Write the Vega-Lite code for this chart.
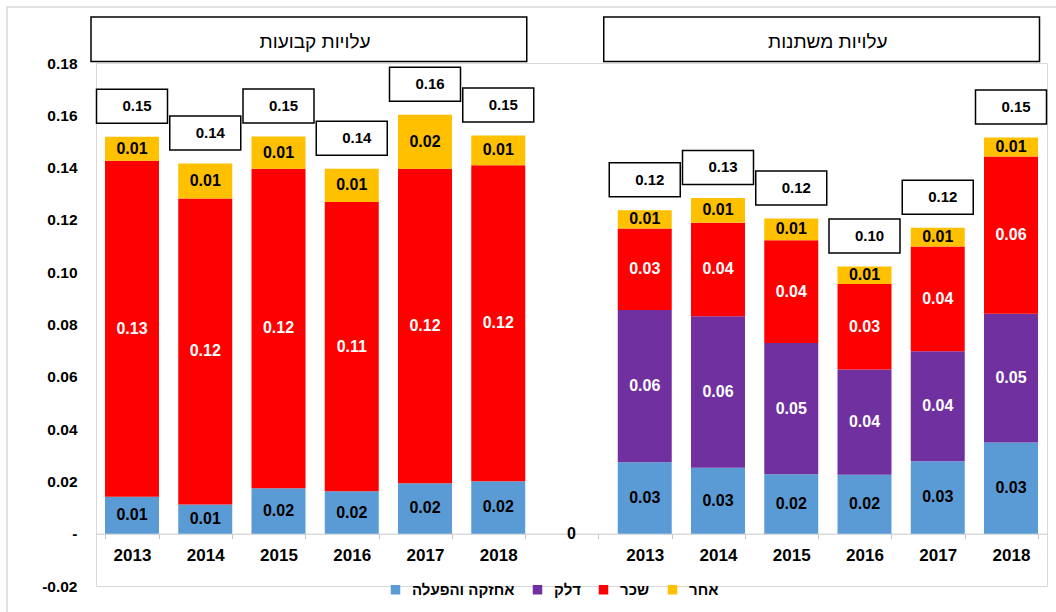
{
  "$schema": "https://vega.github.io/schema/vega-lite/v6.json",
  "width": 951,
  "height": 523,
  "autosize": "none",
  "padding": {"left": 96, "top": 63, "right": 9, "bottom": 26},
  "background": "white",
  "config": {"view": {"stroke": "#d9d9d9", "strokeWidth": 1}, "font": "Liberation Sans"},
  "layer": [
    {
      "data": {"values": [
        {"slot": "F2013", "c": "אחזקה והפעלה", "v": 0.0141},
        {"slot": "F2013", "c": "שכר", "v": 0.1285},
        {"slot": "F2013", "c": "אחר", "v": 0.0092},
        {"slot": "F2014", "c": "אחזקה והפעלה", "v": 0.0112},
        {"slot": "F2014", "c": "שכר", "v": 0.1170},
        {"slot": "F2014", "c": "אחר", "v": 0.0134},
        {"slot": "F2015", "c": "אחזקה והפעלה", "v": 0.0174},
        {"slot": "F2015", "c": "שכר", "v": 0.1222},
        {"slot": "F2015", "c": "אחר", "v": 0.0123},
        {"slot": "F2016", "c": "אחזקה והפעלה", "v": 0.0162},
        {"slot": "F2016", "c": "שכר", "v": 0.1106},
        {"slot": "F2016", "c": "אחר", "v": 0.0128},
        {"slot": "F2017", "c": "אחזקה והפעלה", "v": 0.0193},
        {"slot": "F2017", "c": "שכר", "v": 0.1203},
        {"slot": "F2017", "c": "אחר", "v": 0.0206},
        {"slot": "F2018", "c": "אחזקה והפעלה", "v": 0.0201},
        {"slot": "F2018", "c": "שכר", "v": 0.1208},
        {"slot": "F2018", "c": "אחר", "v": 0.0114},
        {"slot": "gap", "c": "אחזקה והפעלה", "v": 0},
        {"slot": "V2013", "c": "אחזקה והפעלה", "v": 0.0273},
        {"slot": "V2013", "c": "דלק", "v": 0.0582},
        {"slot": "V2013", "c": "שכר", "v": 0.0312},
        {"slot": "V2013", "c": "אחר", "v": 0.0070},
        {"slot": "V2014", "c": "אחזקה והפעלה", "v": 0.0252},
        {"slot": "V2014", "c": "דלק", "v": 0.0580},
        {"slot": "V2014", "c": "שכר", "v": 0.0357},
        {"slot": "V2014", "c": "אחר", "v": 0.0095},
        {"slot": "V2015", "c": "אחזקה והפעלה", "v": 0.0227},
        {"slot": "V2015", "c": "דלק", "v": 0.0502},
        {"slot": "V2015", "c": "שכר", "v": 0.0393},
        {"slot": "V2015", "c": "אחר", "v": 0.0083},
        {"slot": "V2016", "c": "אחזקה והפעלה", "v": 0.0225},
        {"slot": "V2016", "c": "דלק", "v": 0.0403},
        {"slot": "V2016", "c": "שכר", "v": 0.0327},
        {"slot": "V2016", "c": "אחר", "v": 0.0067},
        {"slot": "V2017", "c": "אחזקה והפעלה", "v": 0.0277},
        {"slot": "V2017", "c": "דלק", "v": 0.0421},
        {"slot": "V2017", "c": "שכר", "v": 0.0400},
        {"slot": "V2017", "c": "אחר", "v": 0.0072},
        {"slot": "V2018", "c": "אחזקה והפעלה", "v": 0.0349},
        {"slot": "V2018", "c": "דלק", "v": 0.0492},
        {"slot": "V2018", "c": "שכר", "v": 0.0601},
        {"slot": "V2018", "c": "אחר", "v": 0.0073}
      ]},
      "transform": [
        {"calculate": "indexof(['אחזקה והפעלה','דלק','שכר','אחר'], datum.c)", "as": "ord"},
        {"stack": "v", "groupby": ["slot"], "sort": [{"field": "ord", "order": "ascending"}], "as": ["v0", "v1"]},
        {"calculate": "(datum.v0 + datum.v1) / 2", "as": "mid"},
        {"calculate": "datum.v === 0 ? '0' : format(datum.v, '.2f')", "as": "lbl"}
      ],
      "layer": [
        {
          "mark": {"type": "bar"},
          "encoding": {
            "x": {
              "field": "slot", "type": "nominal", "sort": null, "title": null,
              "scale": {"domain": ["F2013","F2014","F2015","F2016","F2017","F2018","gap","V2013","V2014","V2015","V2016","V2017","V2018"], "paddingInner": 0.263, "paddingOuter": 0.123},
              "axis": {"title": null, "orient": "bottom", "offset": -52.3, "labelExpr": "datum.label === 'gap' ? '' : substring(datum.label, 1)", "labelFontSize": 17, "labelFontWeight": "bold", "labelColor": "black", "labelPadding": 9, "labelAngle": 0, "domainColor": "#c8c8c8", "tickColor": "#c8c8c8", "tickSize": 5, "tickBand": "extent", "grid": false}
            },
            "y": {
              "field": "v1", "type": "quantitative", "title": null,
              "scale": {"domain": [-0.02, 0.18], "nice": false, "zero": false},
              "axis": {"title": null, "values": [-0.02, 0, 0.02, 0.04, 0.06, 0.08, 0.1, 0.12, 0.14, 0.16, 0.18], "labelExpr": "datum.value === 0 ? '-\u00a0\u00a0' : (datum.value < 0 ? '-' + format(-datum.value, '.2f') : format(datum.value, '.2f'))", "domain": false, "ticks": false, "tickSize": 0, "grid": false, "labelFontSize": 15.5, "labelFontWeight": "bold", "labelColor": "black", "labelPadding": 19}
            },
            "y2": {"field": "v0"},
            "color": {
              "field": "c", "type": "nominal",
              "scale": {"domain": ["אחזקה והפעלה", "דלק", "שכר", "אחר"], "range": ["#5B9BD5", "#7030A0", "#FF0000", "#FFC000"]},
              "legend": {"title": null, "orient": "none", "legendX": 292, "legendY": 519, "direction": "horizontal", "symbolType": "square", "symbolSize": 90, "symbolStrokeWidth": 0, "labelFontSize": 15, "labelFontWeight": "bold", "labelColor": "black", "labelOffset": 9, "columnPadding": 15, "padding": 0}
            }
          }
        },
        {
          "mark": {"type": "text", "fontWeight": "bold", "fontSize": 16, "baseline": "middle"},
          "encoding": {
            "x": {"field": "slot", "type": "nominal", "title": null},
            "y": {"field": "mid", "type": "quantitative", "title": null},
            "text": {"field": "lbl"},
            "color": {"condition": {"test": "datum.c === 'שכר' || datum.c === 'דלק'", "value": "white"}, "value": "black"}
          }
        },
        {
          "transform": [
            {"filter": "datum.slot !== 'gap'"},
            {"aggregate": [{"op": "sum", "field": "v", "as": "total"}], "groupby": ["slot"]}
          ],
          "layer": [
            {
              "mark": {"type": "bar", "width": 71, "fill": "white", "stroke": "black", "strokeWidth": 1.5, "yOffset": -47.5, "y2Offset": -13.5},
              "encoding": {
                "x": {"field": "slot", "type": "nominal", "title": null},
                "y": {"field": "total", "type": "quantitative", "title": null},
                "y2": {"field": "total"}
              }
            },
            {
              "mark": {"type": "text", "fontWeight": "bold", "fontSize": 15, "dx": 5, "dy": -30.5, "baseline": "middle", "color": "black"},
              "encoding": {
                "x": {"field": "slot", "type": "nominal", "title": null},
                "y": {"field": "total", "type": "quantitative", "title": null},
                "text": {"field": "total", "format": ".2f"}
              }
            }
          ]
        }
      ]
    },
    {
      "data": {"values": [
        {"title": "עלויות קבועות", "from": "F2013", "to": "F2018", "anchor": "F2015"},
        {"title": "עלויות משתנות", "from": "V2013", "to": "V2018", "anchor": "V2015"}
      ]},
      "layer": [
        {
          "mark": {"type": "rect", "fill": "white", "stroke": "black", "strokeWidth": 1.5, "xOffset": -41, "x2Offset": 28.5, "clip": false},
          "encoding": {
            "x": {"field": "from", "type": "nominal", "title": null},
            "x2": {"field": "to"},
            "y": {"datum": 0.1976, "type": "quantitative", "title": null},
            "y2": {"datum": 0.1806}
          }
        },
        {
          "mark": {"type": "text", "fontSize": 19, "xOffset": 36.6, "baseline": "middle", "color": "black", "clip": false},
          "encoding": {
            "x": {"field": "anchor", "type": "nominal", "title": null},
            "y": {"datum": 0.1882, "type": "quantitative", "title": null},
            "text": {"field": "title"}
          }
        }
      ]
    },
    {
      "data": {"values": [{"from": "F2013", "to": "V2018"}]},
      "mark": {"type": "rect", "fill": null, "fillOpacity": 0, "stroke": "#d9d9d9", "strokeWidth": 1.5, "xOffset": -125, "x2Offset": 49, "clip": false},
      "encoding": {
        "x": {"field": "from", "type": "nominal", "title": null},
        "x2": {"field": "to"},
        "y": {"datum": 0.2014, "type": "quantitative", "title": null},
        "y2": {"datum": -0.0315}
      }
    }
  ]
}
